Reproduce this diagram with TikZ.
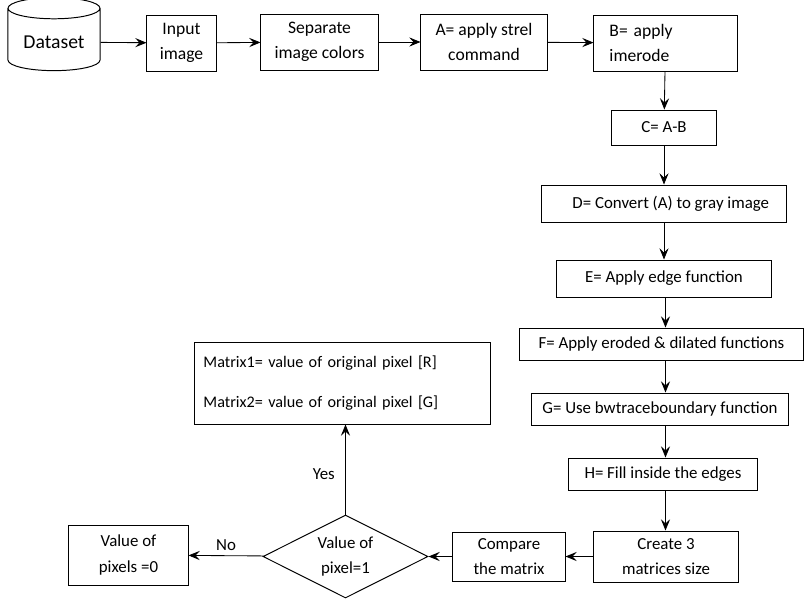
\documentclass[tikz,border=0pt]{standalone}
\usepackage{fontspec}
\setmainfont{Carlito}
\usetikzlibrary{shapes.geometric, arrows.meta}

\begin{document}
\begin{tikzpicture}[x=0.025cm, y=-0.025cm,
    box/.style={rectangle, draw, line width=0.7pt, inner sep=2pt, align=center,
        font=\fontsize{12}{18}\selectfont},
    topbox/.style={box, font=\fontsize{12.5}{18}\selectfont},
    arr/.style={-{Stealth[length=8pt, width=6.5pt, inset=3pt]}, line width=0.6pt}]
    \useasboundingbox (0,0) rectangle (804,600);

    % Nodes
    \node[cylinder, draw, line width=0.7pt, shape border rotate=90, aspect=0.3,
        minimum width=2.3cm, minimum height=1.825cm,
        font=\fontsize{14}{16}\selectfont] (1) at (54,42) {Dataset};
    \node[topbox, minimum width=1.725cm, minimum height=1.4cm] (2) at (181.5,43) {Input\\image};
    \node[topbox, minimum width=2.925cm, minimum height=1.4cm] (3) at (319.5,42) {Separate\\image colors};
    \node[topbox, minimum width=3.15cm, minimum height=1.4cm] (4) at (484,42) {A= apply strel\\command};
    \node[topbox, minimum width=3.575cm, minimum height=1.4cm, text width=2.8cm, align=left] (5) at (665.5,43) {B= apply\\imerode};
    \node[box, minimum width=2.6cm, minimum height=0.875cm] (6) at (664,127.5) {C= A-B};
    \node[box, minimum width=6.1cm, minimum height=0.925cm] (7) at (664,203.5) {\hspace{0.8em}D= Convert (A) to gray image};
    \node[box, minimum width=5.35cm, minimum height=0.925cm] (8) at (664,278.5) {E= Apply edge function};
    \node[box, minimum width=7.075cm, minimum height=0.8cm] (9) at (661.5,344) {F= Apply eroded \& dilated functions};
    \node[box, minimum width=6.4cm, minimum height=0.8cm] (10) at (660,409) {G= Use bwtraceboundary function};
    \node[box, minimum width=4.7cm, minimum height=0.8cm] (11) at (663,474) {H= Fill inside the edges};
    \node[box, minimum width=3.6cm, minimum height=1.275cm] (12) at (666,556.5) {Create 3\\matrices size};
    \node[box, minimum width=2.8cm, minimum height=1.225cm] (13) at (509,556.5) {Compare\\the matrix};
    \node[diamond, draw, line width=0.7pt, aspect=2, inner sep=0pt, align=center,
        minimum width=4.125cm, minimum height=2.075cm,
        font=\fontsize{12}{18}\selectfont] (14) at (345.5,556.5) {Value of\\pixel=1};
    \node[box, minimum width=2.975cm, minimum height=1.5cm] (15) at (128.5,555) {Value of\\pixels =0};
    \node[box, minimum width=7.375cm, minimum height=2.05cm, text width=6.95cm, align=left,
        font=\fontsize{11.5}{29}\selectfont] (16) at (342.5,383) {Matrix1= value of original pixel [R]\\Matrix2= value of original pixel [G]};

    % Lines
    \draw[arr] (1) -- (2);
    \draw[arr] (2) -- (3);
    \draw[arr] (3) -- (4);
    \draw[arr] (4) -- (5);
    \draw[arr] (5) -- (6);
    \draw[arr] (6) -- (7);
    \draw[arr] (7) -- (8);
    \draw[arr] (8.south -| 5.south) -- (9.north -| 5.south);
    \draw[arr] (9.south -| 5.south) -- (10.north -| 5.south);
    \draw[arr] (10.south -| 5.south) -- (11.north -| 5.south);
    \draw[arr] (11.south -| 5.south) -- (12.north -| 5.south);
    \draw[arr] (12) -- (13);
    \draw[arr] (13) -- (14);
    \draw[arr] (14) -- (15) node[midway, above, font=\fontsize{12}{13}\selectfont] {No};
    \draw[arr] (14.north) -- (14.north |- 16.south) node[pos=0.45, left=4pt, font=\fontsize{12}{13}\selectfont] {Yes};
\end{tikzpicture}
\end{document}
